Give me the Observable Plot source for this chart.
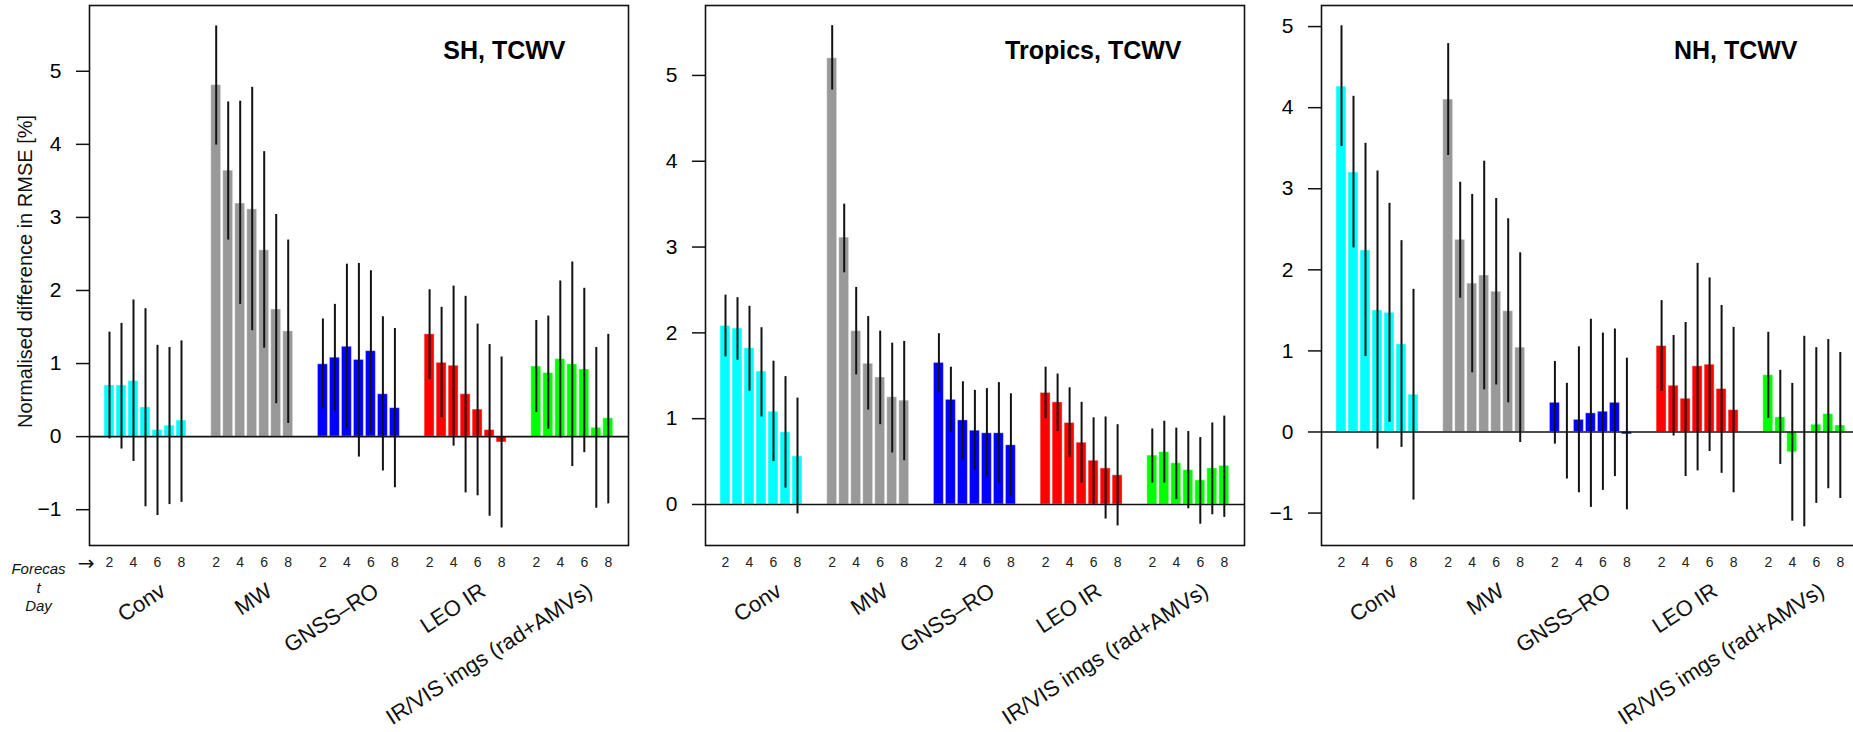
<!DOCTYPE html>
<html>
<head>
<meta charset="utf-8">
<script src="https://cdn.jsdelivr.net/npm/d3@7"></script>
<script src="https://cdn.jsdelivr.net/npm/@observablehq/plot@0.6"></script>
<style>
  html, body { margin: 0; padding: 0; background: #fff; overflow: hidden; width: 1853px; height: 732px; }
  .panel { position: absolute; top: 0; width: 638px; height: 732px; }
</style>
</head>
<body>
<div id="p0" class="panel" style="left:0px"></div>
<div id="p1" class="panel" style="left:616px"></div>
<div id="p2" class="panel" style="left:1232px"></div>
<script>
// ---- categories / labels ----
const groups = ["Conv", "MW", "GNSS\u2013RO", "LEO IR", "IR/VIS imgs (rad+AMVs)"];
const groupColors = ["#00FFFF", "#999999", "#0000FF", "#FF0000", "#00FF00"];
const days = [2, 3, 4, 5, 6, 7, 8];
const dayTickLabels = [2, 4, 6, 8];
const titles = ["SH, TCWV", "Tropics, TCWV", "NH, TCWV"];
const yLabelText = "Normalised difference in RMSE [%]";
const forecastText = "Forecas\nt\nDay";

// ---- SH values (rows = groups, columns = forecast day 2..8) ----
const shMean = [
  [0.70, 0.70, 0.76, 0.40, 0.09, 0.15, 0.22],
  [4.81, 3.64, 3.19, 3.11, 2.55, 1.74, 1.44],
  [0.99, 1.08, 1.23, 1.05, 1.17, 0.58, 0.39],
  [1.40, 1.01, 0.97, 0.58, 0.37, 0.09, -0.08],
  [0.96, 0.87, 1.06, 0.99, 0.92, 0.12, 0.25]
];
const shUpper = [
  [1.43, 1.55, 1.87, 1.75, 1.25, 1.22, 1.31],
  [5.62, 4.58, 4.59, 4.78, 3.90, 3.04, 2.69],
  [1.61, 1.81, 2.36, 2.37, 2.27, 1.64, 1.48],
  [2.01, 1.77, 2.06, 1.92, 1.54, 1.26, 1.09],
  [1.59, 1.65, 2.13, 2.39, 2.03, 1.22, 1.40]
];
const shLower = [
  [-0.03, -0.17, -0.34, -0.96, -1.08, -0.93, -0.90],
  [3.99, 2.69, 1.81, 1.45, 1.21, 0.45, 0.18],
  [0.38, 0.35, 0.10, -0.28, 0.05, -0.47, -0.70],
  [0.78, 0.26, -0.13, -0.77, -0.81, -1.09, -1.25],
  [0.33, 0.10, -0.02, -0.41, -0.22, -0.98, -0.92]
];

// ---- Tropics values ----
const trMean = [
  [2.08, 2.05, 1.82, 1.55, 1.08, 0.84, 0.56],
  [5.20, 3.11, 2.02, 1.64, 1.48, 1.25, 1.21],
  [1.65, 1.22, 0.98, 0.86, 0.83, 0.83, 0.69],
  [1.30, 1.19, 0.95, 0.72, 0.51, 0.42, 0.34],
  [0.57, 0.61, 0.48, 0.40, 0.28, 0.42, 0.45]
];
const trUpper = [
  [2.44, 2.41, 2.31, 2.06, 1.67, 1.49, 1.24],
  [5.58, 3.50, 2.53, 2.19, 2.02, 1.88, 1.90],
  [1.99, 1.60, 1.43, 1.33, 1.35, 1.42, 1.29],
  [1.60, 1.52, 1.36, 1.19, 1.01, 1.02, 0.93],
  [0.88, 0.97, 0.89, 0.85, 0.78, 0.95, 1.03]
];
const trLower = [
  [1.72, 1.68, 1.32, 1.02, 0.50, 0.19, -0.11],
  [4.83, 2.70, 1.51, 1.10, 0.93, 0.60, 0.51],
  [1.30, 0.84, 0.52, 0.40, 0.32, 0.25, 0.09],
  [1.00, 0.85, 0.55, 0.25, 0.00, -0.17, -0.25],
  [0.25, 0.25, 0.06, -0.05, -0.23, -0.12, -0.15]
];

// ---- NH values ----
const nhMean = [
  [4.26, 3.20, 2.24, 1.50, 1.47, 1.08, 0.46],
  [4.10, 2.37, 1.83, 1.93, 1.73, 1.49, 1.04],
  [0.36, 0.00, 0.15, 0.23, 0.25, 0.36, -0.03],
  [1.06, 0.57, 0.41, 0.81, 0.83, 0.53, 0.27],
  [0.70, 0.18, -0.25, 0.00, 0.09, 0.22, 0.08]
];
const nhUpper = [
  [5.01, 4.14, 3.56, 3.22, 2.82, 2.36, 1.76],
  [4.79, 3.08, 2.93, 3.34, 2.88, 2.63, 2.21],
  [0.87, 0.60, 1.05, 1.39, 1.22, 1.27, 0.91],
  [1.62, 1.19, 1.35, 2.08, 1.90, 1.56, 1.29],
  [1.23, 0.76, 0.60, 1.18, 1.04, 1.14, 0.98]
];
const nhLower = [
  [3.52, 2.27, 0.93, -0.21, 0.12, -0.19, -0.84],
  [3.41, 1.65, 0.73, 0.52, 0.58, 0.36, -0.13],
  [-0.15, -0.58, -0.75, -0.93, -0.72, -0.55, -0.96],
  [0.50, -0.05, -0.55, -0.48, -0.24, -0.51, -0.75],
  [0.17, -0.40, -1.10, -1.17, -0.88, -0.70, -0.82]
];

// ---- bar layout (in bar-width units, like barplot's width/space) ----
const barWidth = 1, barStep = 1.2, groupStep = 10.67, edgePad = 1.5;
const xDomain = [0, 53.9];

function buildRows(mean, lower, upper) {
  const rows = [];
  groups.forEach((grp, g) => days.forEach((day, d) => {
    const left = edgePad + g * groupStep + d * barStep;
    rows.push({group: grp, day, left, right: left + barWidth, mid: left + barWidth / 2,
               mean: mean[g][d], lower: lower[g][d], upper: upper[g][d]});
  }));
  return rows;
}
function groupCenters(rows) {
  return groups.map(grp => {
    const r = rows.filter(d => d.group === grp);
    return {group: grp, mid: (r[0].mid + r[r.length - 1].mid) / 2};
  });
}

const panels = [
  {title: titles[0], mean: shMean, lower: shLower, upper: shUpper, y: [-1.49, 5.90], ticks: [-1, 0, 1, 2, 3, 4, 5], first: true},
  {title: titles[1], mean: trMean, lower: trLower, upper: trUpper, y: [-0.478, 5.815], ticks: [0, 1, 2, 3, 4, 5], first: false},
  {title: titles[2], mean: nhMean, lower: nhLower, upper: nhUpper, y: [-1.40, 5.26], ticks: [-1, 0, 1, 2, 3, 4, 5], first: false}
];

const font = "'Liberation Sans', Arial, Helvetica, sans-serif";

panels.forEach((p, i) => {
  const rows = buildRows(p.mean, p.lower, p.upper);
  const centers = groupCenters(rows);
  const tickRows = rows.filter(r => dayTickLabels.includes(r.day));
  const marks = [
    Plot.rect(rows, {x1: "left", x2: "right", y1: 0, y2: "mean", fill: "group", stroke: "white", strokeOpacity: 0.45, strokeWidth: 1}),
    Plot.ruleY([0], {stroke: "#111", strokeWidth: 1.6}),
    Plot.ruleX(rows, {x: "mid", y1: "lower", y2: "upper", stroke: "#111", strokeWidth: 2}),
    Plot.frame({stroke: "#111", strokeWidth: 1.6}),
    Plot.axisY({ticks: p.ticks, tickSize: 13, tickPadding: 15, fontSize: 21, strokeWidth: 1.5, stroke: "#111", label: null, tickFormat: d => d < 0 ? "\u2212" + Math.abs(d) : String(d)}),
    Plot.text(tickRows, {x: "mid", text: d => String(d.day), frameAnchor: "bottom", lineAnchor: "top", dy: 11.5, fontSize: 14, fill: "#222"}),
    Plot.text(centers, {x: "mid", text: "group", frameAnchor: "bottom", rotate: -33, textAnchor: "end", lineAnchor: "top", dx: 13, dy: 36, fontSize: 22, fill: "#111"}),
    Plot.text([p.title], {frameAnchor: "top-right", textAnchor: "end", lineAnchor: "top", dx: -63, dy: 36, fontSize: 25, fontWeight: "bold", fill: "#000"})
  ];
  if (p.first) {
    marks.push(Plot.text([yLabelText], {frameAnchor: "left", rotate: -90, textAnchor: "middle", lineAnchor: "middle", dx: -63.5, dy: -4, fontSize: 20, fill: "#111"}));
    marks.push(Plot.text([forecastText], {frameAnchor: "bottom-left", textAnchor: "middle", lineAnchor: "top", lineHeight: 1.21, dx: -51, dy: 16, fontSize: 15, fontStyle: "italic", fill: "#111"}));
    marks.push(Plot.text(["\u2192"], {frameAnchor: "bottom-left", textAnchor: "middle", lineAnchor: "middle", dx: -3.5, dy: 18.3, fontSize: 20, fontFamily: "'DejaVu Sans', sans-serif", fill: "#111"}));
  }
  const chart = Plot.plot({
    width: 638, height: 732,
    marginLeft: 89, marginRight: 10, marginTop: 5, marginBottom: 187,
    x: {domain: xDomain, axis: null},
    y: {domain: p.y},
    color: {domain: groups, range: groupColors},
    style: {background: "transparent", overflow: "visible", fontFamily: font, maxWidth: "none"},
    marks
  });
  document.getElementById("p" + i).appendChild(chart);
});
</script>
</body>
</html>
